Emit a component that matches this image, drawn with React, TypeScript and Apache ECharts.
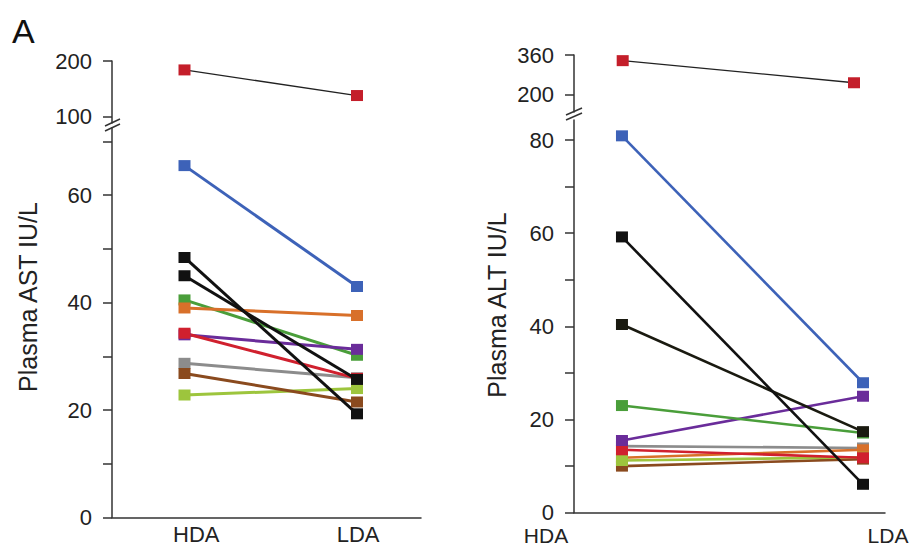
import React, { useEffect, useRef } from 'react';
import * as echarts from 'echarts';

// ---------- data ----------
const categories = ['HDA', 'LDA'];

// Plasma AST (IU/L): outlier subject shown in the upper (broken) segment
const astOutlier = [184, 138];
// order: light green, gray, brown, green, purple, red, orange, blue, black 2, black 1
const astHDA = [22.8, 28.7, 26.8, 40.5, 34.0, 34.3, 39.0, 65.5, 45.0, 48.4];
const astLDA = [24.0, 26.0, 21.5, 30.2, 31.3, 25.9, 37.6, 43.0, 25.7, 19.3];

// Plasma ALT (IU/L)
const altOutlier = [337, 247];
// order: gray, orange, brown, light green, red, purple, green, black 2, black 1, blue
const altHDA = [14.3, 11.8, 10.0, 11.2, 13.5, 15.5, 23.0, 40.4, 59.2, 80.9];
const altLDA = [13.9, 13.5, 11.5, 11.9, 11.8, 25.0, 17.1, 17.4, 6.1, 27.9];

// tick values
const astTopTicks = [100, 200];
const astTicks = [0, 10, 20, 30, 40, 50, 60, 70];
const astLabels = [0, 20, 40, 60];
const altTopTicks = [200, 360];
const altTicks = [0, 10, 20, 30, 40, 50, 60, 70, 80];
const altLabels = [0, 20, 40, 60, 80];

// ---------- styles ----------
const astColors = ['#9dc53d', '#8c8c8c', '#8a4a1e', '#4a9e3a', '#6a2c9a', '#d0202e', '#d8702a', '#3d62b8', '#111111', '#111111'];
const altColors = ['#8c8c8c', '#d8702a', '#8a4a1e', '#9dc53d', '#d0202e', '#6a2c9a', '#4a9e3a', '#1a1a10', '#111111', '#3d62b8'];
const outlierColor = '#c41e2a';
const FONT = '"Liberation Sans", Arial, Helvetica, sans-serif';
const AXIS = '#333333';
const TXT = '#222222';

function pair(name: string, hda: number, lda: number, color: string, idx: number, lineColor?: string, width = 3) {
  return {
    type: 'line',
    name,
    xAxisIndex: idx,
    yAxisIndex: idx,
    data: [[0, hda], [1, lda]],
    symbol: 'rect',
    symbolSize: [12, 11],
    itemStyle: { color },
    lineStyle: { color: lineColor ?? color, width },
    silent: true,
  };
}

function yAx(gridIndex: number, min: number, max: number, ticks: number[], labels: number[]) {
  return {
    type: 'value',
    gridIndex,
    min,
    max,
    splitLine: { show: false },
    axisLine: { show: true, onZero: false, lineStyle: { color: AXIS, width: 1.5 } },
    axisTick: { show: true, length: 9, customValues: ticks, lineStyle: { color: AXIS, width: 1.5 } },
    axisLabel: { customValues: labels, margin: 20, fontSize: 22, color: TXT, fontFamily: FONT },
  };
}

function xAx(gridIndex: number, min: number, max: number, visible: boolean, withLabels: boolean) {
  return {
    type: 'value',
    gridIndex,
    min,
    max,
    show: visible,
    splitLine: { show: false },
    axisLine: { show: visible, onZero: false, lineStyle: { color: AXIS, width: 1.5 } },
    axisTick: { show: false },
    axisLabel: withLabels
      ? {
          customValues: [0.068, 1.006],
          formatter: (v: number) => (v < 0.5 ? categories[0] : categories[1]),
          margin: 6,
          fontSize: 22,
          color: TXT,
          fontFamily: FONT,
        }
      : { show: false },
  };
}

export default function App() {
  const ref = useRef<HTMLDivElement>(null);
  useEffect(() => {
    if (!ref.current) return;
    const chart = echarts.init(ref.current, undefined, { renderer: 'svg' });

    const series: any[] = [];
    series.push(pair('AST outlier', astOutlier[0], astOutlier[1], outlierColor, 0, '#222', 1.3));
    astHDA.forEach((v, i) => series.push(pair('AST ' + i, v, astLDA[i], astColors[i], 1)));
    series.push(pair('ALT outlier', altOutlier[0], altOutlier[1], outlierColor, 2, '#222', 1.3));
    altHDA.forEach((v, i) => series.push(pair('ALT ' + i, v, altLDA[i], altColors[i], 3, undefined, 2.6)));

    const slash = (x1: number, y1: number, x2: number, y2: number) => ({
      type: 'line',
      shape: { x1, y1, x2, y2 },
      style: { stroke: AXIS, lineWidth: 1.5 },
    });

    const g = (left: number, top: number, width: number, height: number) => ({
      left, top, width, height, containLabel: false, outerBoundsMode: 'none',
    });

    chart.setOption({
      animation: false,
      textStyle: { fontFamily: FONT },
      grid: [
        g(112, 61, 309, 62),
        g(112, 128, 309, 389.5),
        g(574, 55, 311, 57),
        g(574, 120, 311, 392.7),
      ],
      xAxis: [
        xAx(0, -0.4203, 1.371, false, false),
        xAx(1, -0.4203, 1.371, true, true),
        xAx(2, -0.2105, 1.134, false, false),
        xAx(3, -0.199, 1.0913, true, false),
      ],
      yAxis: [
        yAx(0, 88.7, 200, astTopTicks, astTopTicks),
        yAx(1, 0, 72.5, astTicks, astLabels),
        yAx(2, 128, 360, altTopTicks, altTopTicks),
        yAx(3, 0, 84.3, altTicks, altLabels),
      ],
      series,
      graphic: [
        { type: 'text', x: 12, y: 14, style: { text: 'A', fontSize: 34, fontFamily: FONT, fill: '#111' } },
        {
          type: 'text', x: 28, y: 297, rotation: Math.PI / 2,
          style: { text: 'Plasma AST IU/L', fontSize: 25, fontFamily: FONT, fill: TXT, align: 'center', verticalAlign: 'middle' },
        },
        {
          type: 'text', x: 497, y: 305, rotation: Math.PI / 2,
          style: { text: 'Plasma ALT IU/L', fontSize: 25, fontFamily: FONT, fill: TXT, align: 'center', verticalAlign: 'middle' },
        },
        { type: 'text', x: 546, y: 535.5, style: { text: categories[0], fontSize: 21, fontFamily: FONT, fill: TXT, align: 'center', verticalAlign: 'middle' } },
        { type: 'text', x: 888, y: 535.5, style: { text: categories[1], fontSize: 21, fontFamily: FONT, fill: TXT, align: 'center', verticalAlign: 'middle' } },
        slash(105, 126, 120, 119),
        slash(105, 131, 120, 124),
        slash(566, 115, 582, 108),
        slash(566, 120, 582, 113),
      ],
    });
    return () => chart.dispose();
  }, []);
  return <div ref={ref} style={{ position: 'fixed', left: 0, top: 0, width: 919, height: 546, background: '#fff' }} />;
}
